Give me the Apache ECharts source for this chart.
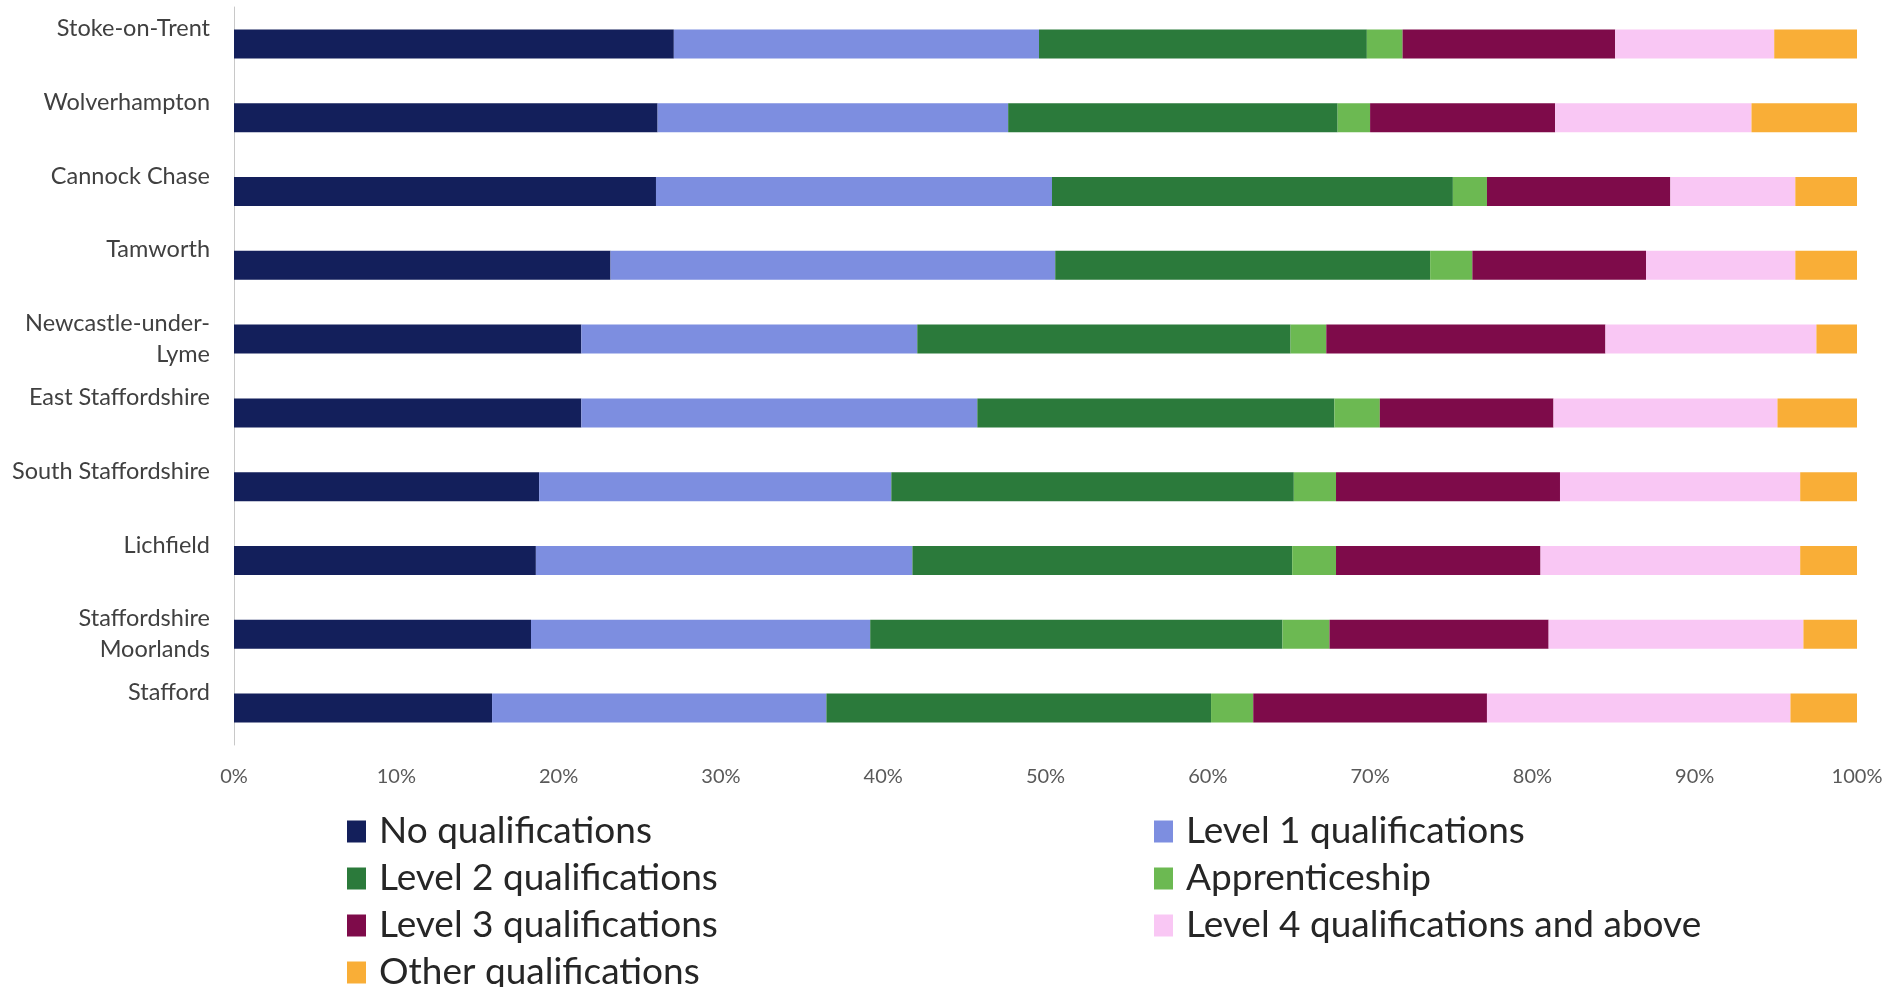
<!DOCTYPE html>
<html>
<head>
<meta charset="utf-8">
<script src="https://cdn.jsdelivr.net/npm/echarts@6/dist/echarts.min.js"></script>
<style>
  html, body { margin: 0; padding: 0; background: #ffffff; }
  #chart { width: 1889px; height: 987px; }
</style>
</head>
<body>
<div id="chart"></div>
<script>
const categories = ["Stoke-on-Trent", "Wolverhampton", "Cannock Chase", "Tamworth", "Newcastle-under-\nLyme", "East Staffordshire", "South Staffordshire", "Lichfield", "Staffordshire\nMoorlands", "Stafford"];
const seriesNames = ["No qualifications", "Level 1 qualifications", "Level 2 qualifications", "Apprenticeship", "Level 3 qualifications", "Level 4 qualifications and above", "Other qualifications"];
const noQualifications = [27.1, 26.1, 26.0, 23.2, 21.4, 21.4, 18.8, 18.6, 18.3, 15.9];
const level1 = [22.5, 21.6, 24.4, 27.4, 20.7, 24.4, 21.7, 23.2, 20.9, 20.6];
const level2 = [20.2, 20.3, 24.7, 23.1, 23.0, 22.0, 24.8, 23.4, 25.4, 23.7];
const apprenticeship = [2.2, 2.0, 2.1, 2.6, 2.2, 2.8, 2.6, 2.7, 2.9, 2.6];
const level3 = [13.1, 11.4, 11.3, 10.7, 17.2, 10.7, 13.8, 12.6, 13.5, 14.4];
const level4 = [9.8, 12.1, 7.7, 9.2, 13.0, 13.8, 14.8, 16.0, 15.7, 18.7];
const other = [5.1, 6.5, 3.8, 3.8, 2.5, 4.9, 3.5, 3.5, 3.3, 4.1];
const xTicks = { min: 0, max: 100, interval: 10 };

const seriesData = [noQualifications, level1, level2, apprenticeship, level3, level4, other];
const colors = ["#131f5b", "#7d8ee0", "#2b7a3b", "#6cb952", "#7e0b4a", "#f9c7f4", "#f9ae37"];

const chart = echarts.init(document.getElementById('chart'));
const FONT = 'Lato';

const legendCommon = {
  orient: 'vertical', top: 813, itemGap: 10, padding: 0, height: 230,
  itemWidth: 19, itemHeight: 22, icon: 'rect',
  textStyle: { fontFamily: FONT, fontSize: 37, lineHeight: 37, color: '#262626', padding: [0, 0, 0, 8] }
};

chart.setOption({
  backgroundColor: '#ffffff',
  animation: false,
  color: colors,
  grid: { left: 234, right: 32, top: 7, bottom: 242, containLabel: false },
  xAxis: {
    type: 'value',
    min: xTicks.min, max: xTicks.max, interval: xTicks.interval,
    axisLine: { show: false },
    axisTick: { show: false },
    splitLine: { show: false },
    axisLabel: {
      formatter: '{value}%',
      color: '#595959', fontFamily: FONT, fontSize: 20, margin: 22
    }
  },
  yAxis: {
    type: 'category',
    inverse: true,
    data: categories,
    axisLine: { show: true, lineStyle: { color: '#c8c8c8', width: 1 } },
    axisTick: { show: false },
    axisLabel: {
      interval: 0, showMinLabel: true, showMaxLabel: true, hideOverlap: false,
      color: '#404040', fontFamily: FONT, fontSize: 23.5, lineHeight: 31,
      margin: 24, align: 'right', verticalAlign: 'middle',
      padding: [0, 0, 18, 0],
      formatter: function (v) { return v.indexOf('\n') >= 0 ? v : v + '\n '; }
    }
  },
  legend: [
    Object.assign({}, legendCommon, {
      left: 347,
      data: [seriesNames[0], seriesNames[2], seriesNames[4], seriesNames[6]]
    }),
    Object.assign({}, legendCommon, {
      left: 1154,
      data: [seriesNames[1], seriesNames[3], seriesNames[5]]
    })
  ],
  series: seriesNames.map((name, i) => ({
    name: name,
    type: 'bar',
    stack: 'total',
    barWidth: 29,
    data: seriesData[i],
    itemStyle: { color: colors[i] }
  }))
});
</script>
</body>
</html>
